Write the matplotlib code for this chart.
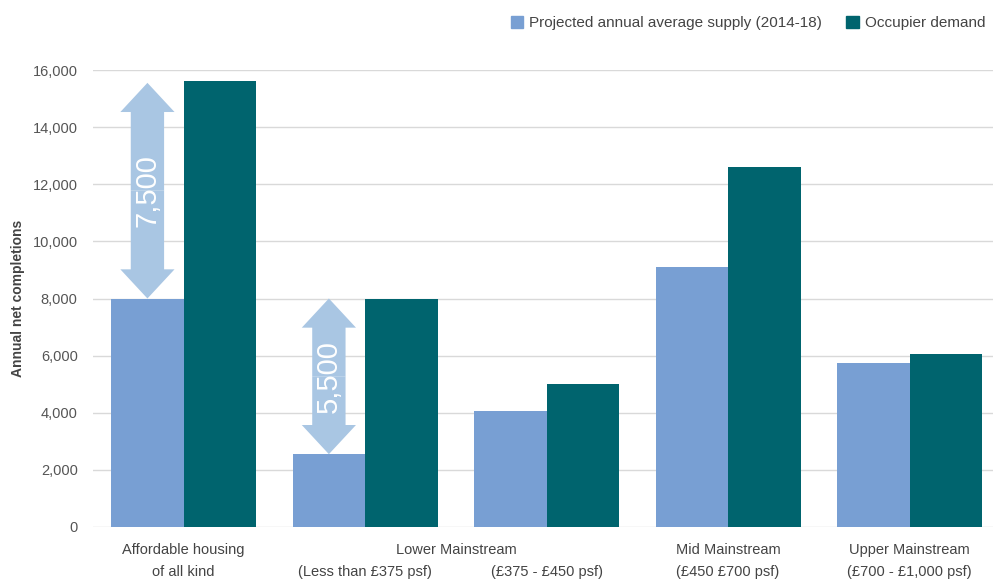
import numpy as np
import matplotlib.pyplot as plt
from matplotlib.patches import FancyArrowPatch, Patch
from matplotlib.ticker import FuncFormatter

plt.rcParams['font.family'] = ['Liberation Sans', 'DejaVu Sans']

# Data
top_labels = ['Affordable housing', 'Lower Mainstream', 'Mid Mainstream', 'Upper Mainstream']
top_pos = [0, 1.5, 3, 4]
sub_labels = ['of all kind', '(Less than £375 psf)', '(£375 - £450 psf)',
              '(£450 £700 psf)', '(£700 - £1,000 psf)']
supply = [8000, 2550, 4050, 9100, 5750]
demand = [15600, 8000, 5000, 12600, 6050]
gap_labels = ['7,500', '5,500']
gap_groups = [0, 1]
gap_tops = [15550, 8000]

c_supply = '#789fd3'
c_demand = '#00646e'
c_arrow = '#a9c6e3'
c_text = '#555555'

fig = plt.figure(figsize=(9.93, 5.79), dpi=100)
ax = fig.add_axes([93 / 993, 1 - 527 / 579, 1 - 93 / 993, 457 / 579])

x = np.arange(len(supply))
w = 0.4
ax.bar(x - w / 2, supply, w, color=c_supply, zorder=2)
ax.bar(x + w / 2, demand, w, color=c_demand, zorder=2)

# double headed gap arrows over the supply bars
for g, top, lab in zip(gap_groups, gap_tops, gap_labels):
    xc = x[g] - w / 2
    lo = supply[g]
    mid = (lo + top) / 2
    for end in (lo, top):
        arr = FancyArrowPatch((xc, mid), (xc, end),
                              arrowstyle='simple,head_width=39,head_length=21,tail_width=24',
                              mutation_scale=1, color=c_arrow, lw=0,
                              shrinkA=0, shrinkB=0, zorder=3)
        ax.add_patch(arr)
    ax.text(xc, mid, lab, rotation=90, ha='center', va='center',
            color='white', fontsize=21, zorder=4)

ax.set_xlim(-0.5, 4.46)
ax.set_ylim(0, 16000)
ax.set_yticks(np.arange(0, 16001, 2000))
ax.yaxis.set_major_formatter(FuncFormatter(lambda v, p: f'{v:,.0f}'))
ax.grid(axis='y', color='#d9d9d9', lw=1, zorder=0)
ax.set_axisbelow(True)
for s in ax.spines.values():
    s.set_visible(False)

ax.set_xticks([])
ax.tick_params(axis='y', length=0, pad=11, labelsize=10.5, labelcolor=c_text)
xt = ax.get_xaxis_transform()
for pos, lab in zip(top_pos, top_labels):
    ax.text(pos, -0.05, lab, transform=xt, ha='center', va='center',
            fontsize=10.5, color='#444444')
for pos, lab in zip(x, sub_labels):
    ax.text(pos, -0.0985, lab, transform=xt, ha='center', va='center',
            fontsize=10.5, color='#444444')

ax.set_ylabel('Annual net completions', fontsize=10, fontweight='bold',
              color='#444444', labelpad=5.5)

handles = [Patch(color=c_supply), Patch(color=c_demand)]
fig.legend(handles, ['Projected annual average supply (2014-18)', 'Occupier demand'],
           loc='upper right', bbox_to_anchor=(1.006, 0.996), ncol=2, frameon=False,
           fontsize=11, handlelength=0.8, handleheight=0.8, handletextpad=0.4,
           columnspacing=1.6, labelcolor='#444444')

fig.savefig('out.png', dpi=100)
